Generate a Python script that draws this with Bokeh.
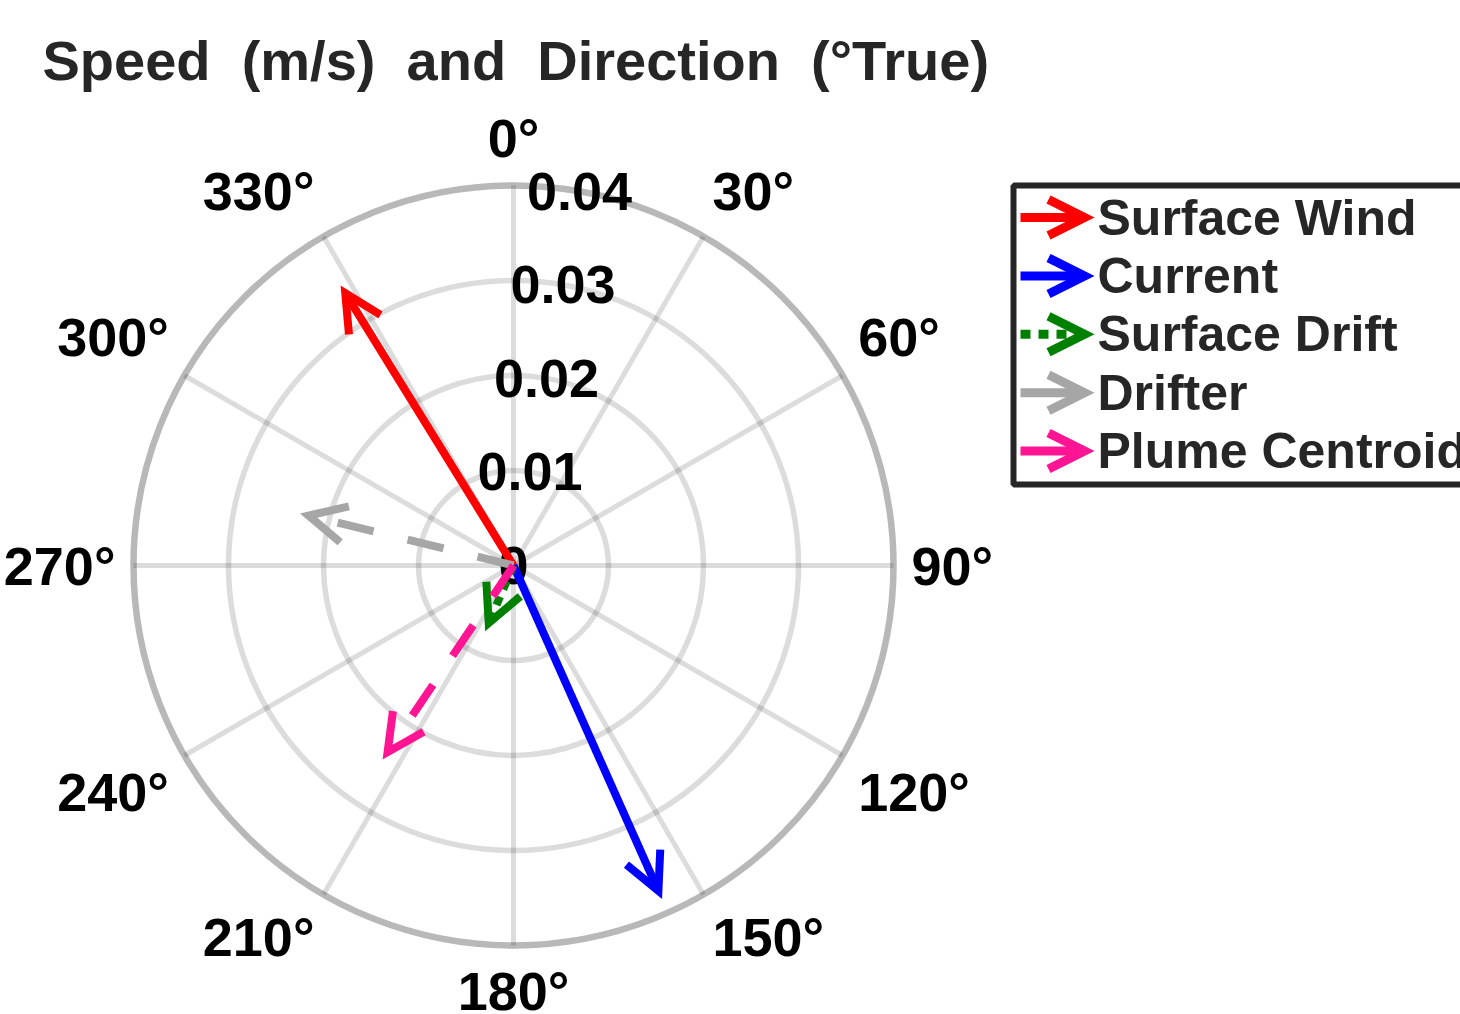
import math
from bokeh.plotting import figure
from bokeh.models import Arrow, OpenHead, Range1d
from bokeh.embed import file_html
from bokeh.resources import INLINE
from bokeh.core.properties import value

# ---------------- data ----------------
series_names = ["Surface Wind", "Current", "Surface Drift", "Drifter", "Plume Centroid"]
speeds = [0.0337, 0.0375, 0.0066, 0.0222, 0.0237]          # m/s
directions = [328.3, 156.0, 203.3, 283.7, 214.0]           # degrees True
series_colors = ["#ff0000", "#0000ff", "#008000", "#a6a6a6", "#ff1493"]
series_dashes = ["solid", "solid", "9 8", "37 35", "37 35"]
legend_dashes = ["solid", "solid", "10 8", "solid", "solid"]

ring_values = [0.01, 0.02, 0.03, 0.04]
radial_values = [0.0, 0.01, 0.02, 0.03, 0.04]
radial_labels = ["0", "0.01", "0.02", "0.03", "0.04"]
theta_ticks = list(range(0, 360, 30))
theta_labels = [f"{t}°" for t in theta_ticks]
title_text = "Speed\u00a0 (m/s)\u00a0 and\u00a0 Direction\u00a0 (°True)"

# ---------------- layout helpers ----------------
W, H = 1460, 1014
CX, CY = 513, 565            # polar centre in page pixels
R_PX = 380.0                 # pixel radius of outer ring
RMAX = max(ring_values)
S = RMAX / R_PX              # data units per pixel


def px(X, Y):
    return (X - CX) * S, (CY - Y) * S


def polar(r, deg):
    a = math.radians(deg)
    return r * math.sin(a), r * math.cos(a)


FONT = value("Liberation Sans")

p = figure(width=W, height=H, output_backend="svg", toolbar_location=None,
           x_axis_location=None, y_axis_location=None, min_border=0,
           outline_line_color=None, background_fill_color="white",
           x_range=Range1d(-CX * S, (W - CX) * S),
           y_range=Range1d(-(H - CY) * S, CY * S))
p.grid.visible = False

# ---------------- polar grid ----------------
inner = ring_values[:-1]
p.circle(x=[0] * len(inner), y=[0] * len(inner), radius=inner,
         fill_color=None, line_color="#262626", line_alpha=0.16, line_width=5.5)
sx = [polar(RMAX, t)[0] for t in theta_ticks]
sy = [polar(RMAX, t)[1] for t in theta_ticks]
p.segment(x0=[0] * len(sx), y0=[0] * len(sy), x1=sx, y1=sy,
          line_color="#262626", line_alpha=0.16, line_width=5)
p.circle(x=[0], y=[0], radius=[RMAX], fill_color=None,
         line_color="#262626", line_alpha=0.33, line_width=6.5)

# radial tick labels
LAB_ANG = 10
rx = [polar(v, LAB_ANG)[0] for v in radial_values]
ry = [polar(v, LAB_ANG)[1] for v in radial_values]
p.text(x=rx, y=ry, text=radial_labels, text_font=FONT, text_font_style="bold",
       text_font_size="54px", text_color="#000000",
       text_align="center", text_baseline="middle")

# angular tick labels (anchored just outside the outer ring)
R_LAB = RMAX * 398.0 / R_PX
UP_SHIFT = 30 * S
DOWN_SHIFT = 27 * S
for t, lab in zip(theta_ticks, theta_labels):
    x, y = polar(R_LAB, t)
    sn, cs = math.sin(math.radians(t)), math.cos(math.radians(t))
    align = "left" if sn > 1e-6 else ("right" if sn < -1e-6 else "center")
    if cs > 1e-6:
        y += UP_SHIFT
    elif cs < -1e-6:
        y -= DOWN_SHIFT
    p.text(x=[x], y=[y], text=[lab], text_font=FONT, text_font_style="bold",
           text_font_size="54px", text_color="#000000",
           text_align=align, text_baseline="middle")

# ---------------- arrows ----------------
for spd, d, c, dash in zip(speeds, directions, series_colors, series_dashes):
    xe, ye = polar(spd, d)
    p.add_layout(Arrow(x_start=0, y_start=0, x_end=xe, y_end=ye,
                       line_color=c, line_width=8, line_dash=dash,
                       end=OpenHead(size=37, line_color=c, line_width=8,
                                    line_join="miter")))

# ---------------- title ----------------
tx0, ty0 = px(42, 60)
p.text(x=[tx0], y=[ty0], text=[title_text], text_font=FONT, text_font_style="bold",
       text_font_size="56px", text_color="#262626",
       text_align="left", text_baseline="middle")

# ---------------- legend ----------------
lx0, ly0 = px(1013, 185)
lx1, ly1 = px(1520, 484)
p.quad(left=[lx0], right=[lx1], top=[ly0], bottom=[ly1], fill_color="white",
       line_color="#262626", line_width=6)
row_y0, row_step = 217, 58.4
for i, (name, c, dash) in enumerate(zip(series_names, series_colors, legend_dashes)):
    yc = row_y0 + i * row_step
    xs, ys = px(1020, yc)
    xe, ye = px(1084, yc)
    p.add_layout(Arrow(x_start=xs, y_start=ys, x_end=xe, y_end=ye,
                       line_color=c, line_width=9, line_dash=dash,
                       end=OpenHead(size=36, line_color=c, line_width=9,
                                    line_join="miter")))
    xt, yt = px(1097, yc)
    p.text(x=[xt], y=[yt], text=[name], text_font=FONT, text_font_style="bold",
           text_font_size="50px", text_color="#262626",
           text_align="left", text_baseline="middle")

open("out.html", "w").write(file_html(p, INLINE))
